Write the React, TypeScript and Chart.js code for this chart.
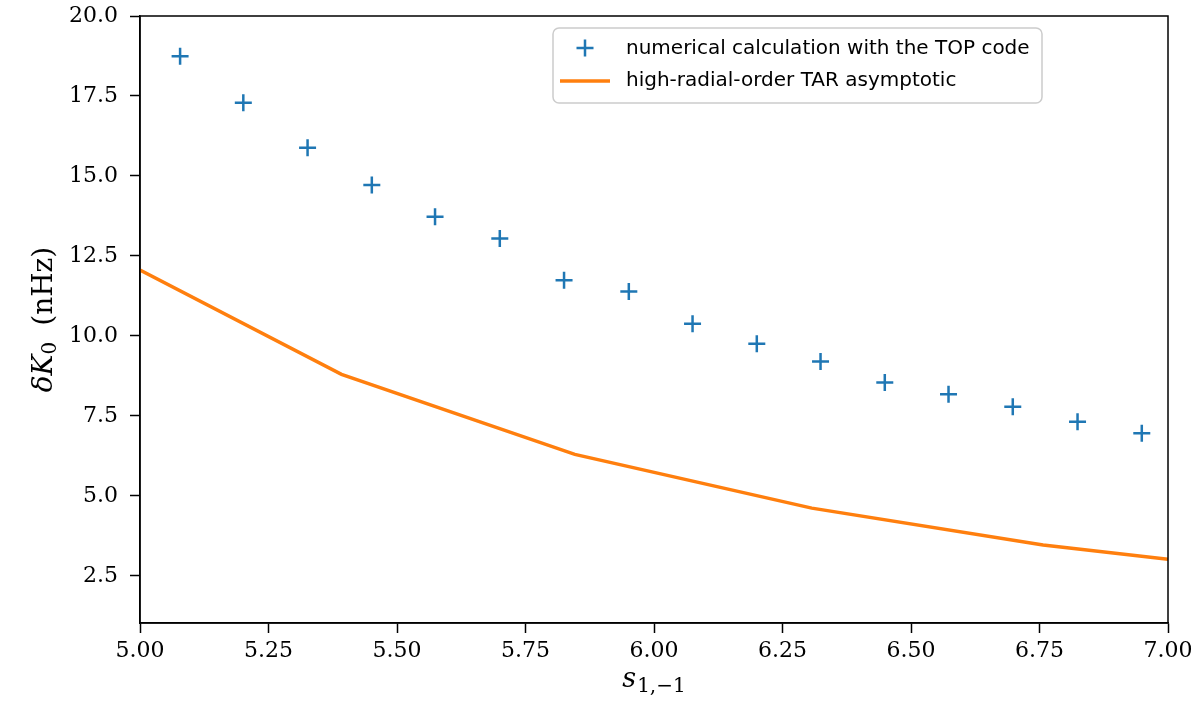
import React, { useEffect, useRef } from "react";
import { Chart, registerables } from "chart.js";

Chart.register(...registerables);

// s_{1,-1} values of the numerical (TOP code) points
const sValues = [5.078, 5.201, 5.326, 5.451, 5.574, 5.7, 5.825, 5.951, 6.075, 6.2, 6.324, 6.449, 6.573, 6.698, 6.824, 6.949];
// delta K_0 (nHz) from the TOP code
const topCodeK0 = [18.74, 17.29, 15.88, 14.72, 13.73, 13.05, 11.74, 11.39, 10.38, 9.76, 9.2, 8.55, 8.18, 7.79, 7.32, 6.96];
// high-radial-order TAR asymptotic curve
const tarS = [5.0, 5.392, 5.846, 6.307, 6.757, 7.0];
const tarK0 = [12.06, 8.8, 6.3, 4.62, 3.47, 3.02];

const xTicks = [5.0, 5.25, 5.5, 5.75, 6.0, 6.25, 6.5, 6.75, 7.0];
const yTicks = [2.5, 5.0, 7.5, 10.0, 12.5, 15.0, 17.5, 20.0];

const seriesLabels = ["numerical calculation with the TOP code", "high-radial-order TAR asymptotic"];
const xTitleMain = "s";
const xTitleSub = "1,\u22121";
const yTitleMain = "\u03B4K";
const yTitleSub = "0";
const yTitleUnit = "(nHz)";

const BLUE = "#1f77b4";
const ORANGE = "#ff7f0e";

const framePlugin = {
  id: "frameAndText",
  afterDraw(chart: any) {
    const ctx: CanvasRenderingContext2D = chart.ctx;
    const ca = chart.chartArea;
    ctx.save();
    // spines (top & right)
    ctx.strokeStyle = "#000";
    ctx.lineWidth = 1.5;
    ctx.strokeRect(ca.left, ca.top, ca.right - ca.left, ca.bottom - ca.top);

    // legend box
    const bx = 553, by = 28, bw = 489, bh = 75, r = 6;
    ctx.beginPath();
    ctx.moveTo(bx + r, by);
    ctx.lineTo(bx + bw - r, by);
    ctx.arcTo(bx + bw, by, bx + bw, by + r, r);
    ctx.lineTo(bx + bw, by + bh - r);
    ctx.arcTo(bx + bw, by + bh, bx + bw - r, by + bh, r);
    ctx.lineTo(bx + r, by + bh);
    ctx.arcTo(bx, by + bh, bx, by + bh - r, r);
    ctx.lineTo(bx, by + r);
    ctx.arcTo(bx, by, bx + r, by, r);
    ctx.closePath();
    ctx.fillStyle = "rgba(255,255,255,0.8)";
    ctx.fill();
    ctx.strokeStyle = "#cccccc";
    ctx.lineWidth = 1.5;
    ctx.stroke();

    // legend entry 1: cross marker
    ctx.strokeStyle = BLUE;
    ctx.lineWidth = 2.5;
    ctx.beginPath();
    ctx.moveTo(585 - 8.5, 48);
    ctx.lineTo(585 + 8.5, 48);
    ctx.moveTo(585, 48 - 8.5);
    ctx.lineTo(585, 48 + 8.5);
    ctx.stroke();
    // legend entry 2: line
    ctx.strokeStyle = ORANGE;
    ctx.lineWidth = 3.5;
    ctx.beginPath();
    ctx.moveTo(560, 81);
    ctx.lineTo(610, 81);
    ctx.stroke();

    ctx.fillStyle = "#000";
    ctx.font = "20px 'DejaVu Sans'";
    ctx.textBaseline = "middle";
    ctx.textAlign = "left";
    ctx.fillText(chart.data.datasets[0].label, 626, 49);
    ctx.fillText(chart.data.datasets[1].label, 626, 81);

    // x axis title
    ctx.textBaseline = "alphabetic";
    ctx.font = "italic 27px 'DejaVu Serif'";
    const wMain = ctx.measureText(xTitleMain).width;
    ctx.font = "20px 'DejaVu Serif'";
    const wSub = ctx.measureText(xTitleSub).width;
    const cx = (ca.left + ca.right) / 2;
    let x0 = cx - (wMain + wSub + 1) / 2;
    ctx.font = "italic 27px 'DejaVu Serif'";
    ctx.fillText(xTitleMain, x0, 687);
    ctx.font = "20px 'DejaVu Serif'";
    ctx.fillText(xTitleSub, x0 + wMain + 1, 692);

    // y axis title (rotated)
    const cy = (ca.top + ca.bottom) / 2;
    ctx.translate(52, cy);
    ctx.rotate(-Math.PI / 2);
    ctx.font = "italic 28px 'DejaVu Serif'";
    const w1 = ctx.measureText(yTitleMain).width;
    ctx.font = "20px 'DejaVu Serif'";
    const w2 = ctx.measureText(yTitleSub).width;
    ctx.font = "28px 'DejaVu Serif'";
    const gap = 16;
    const w3 = ctx.measureText(yTitleUnit).width;
    const total = w1 + w2 + gap + w3;
    let t = -total / 2;
    ctx.font = "italic 28px 'DejaVu Serif'";
    ctx.fillText(yTitleMain, t, 0);
    t += w1;
    ctx.font = "20px 'DejaVu Serif'";
    ctx.fillText(yTitleSub, t, 4);
    t += w2 + gap;
    ctx.font = "28px 'DejaVu Serif'";
    ctx.fillText(yTitleUnit, t, 0);
    ctx.restore();
  },
};

export default function App() {
  const canvasRef = useRef<HTMLCanvasElement | null>(null);

  useEffect(() => {
    document.body.style.margin = "0";
    const canvas = canvasRef.current;
    if (!canvas) return;
    const chart = new Chart(canvas, {
      type: "line",
      data: {
        datasets: [
          {
            label: seriesLabels[0],
            data: sValues.map((x, i) => ({ x, y: topCodeK0[i] })),
            showLine: false,
            pointStyle: "cross",
            pointRadius: 8.5,
            pointHoverRadius: 8.5,
            pointBorderWidth: 2.5,
            borderColor: BLUE,
            backgroundColor: BLUE,
          },
          {
            label: seriesLabels[1],
            data: tarS.map((x, i) => ({ x, y: tarK0[i] })),
            borderColor: ORANGE,
            backgroundColor: ORANGE,
            borderWidth: 3.5,
            pointRadius: 0,
            tension: 0,
          },
        ],
      },
      options: {
        animation: false,
        responsive: true,
        maintainAspectRatio: false,
        layout: { padding: { top: 16, right: 32, left: 0, bottom: 0 } },
        plugins: { legend: { display: false }, tooltip: { enabled: false } },
        events: [],
        scales: {
          x: {
            type: "linear",
            min: 5,
            max: 7,
            afterBuildTicks: (s: any) => {
              s.ticks = xTicks.map((v) => ({ value: v }));
            },
            afterFit: (s: any) => {
              s.height = 78;
            },
            ticks: {
              callback: (v: any) => Number(v).toFixed(2),
              font: { family: "'DejaVu Serif'", size: 22 },
              color: "#000",
              padding: 5,
              maxRotation: 0,
              autoSkip: false,
            },
            grid: {
              drawOnChartArea: false,
              drawTicks: true,
              tickLength: 10,
              tickWidth: 1.5,
              tickColor: "#000",
            },
            border: { display: true, color: "#000", width: 1.5 },
          },
          y: {
            type: "linear",
            min: 1.03,
            max: 20,
            afterBuildTicks: (s: any) => {
              s.ticks = yTicks.map((v) => ({ value: v }));
            },
            afterFit: (s: any) => {
              s.width = 140;
            },
            ticks: {
              callback: (v: any) => Number(v).toFixed(1),
              font: { family: "'DejaVu Serif'", size: 22, lineHeight: 0.3 },
              color: "#000",
              padding: 12,
              autoSkip: false,
            },
            grid: {
              drawOnChartArea: false,
              drawTicks: true,
              tickLength: 10,
              tickWidth: 1.5,
              tickColor: "#000",
            },
            border: { display: true, color: "#000", width: 1.5 },
          },
        },
      },
      plugins: [framePlugin],
    });
    return () => chart.destroy();
  }, []);

  return (
    <div style={{ width: 1200, height: 701, position: "relative" }}>
      <canvas ref={canvasRef} />
    </div>
  );
}
